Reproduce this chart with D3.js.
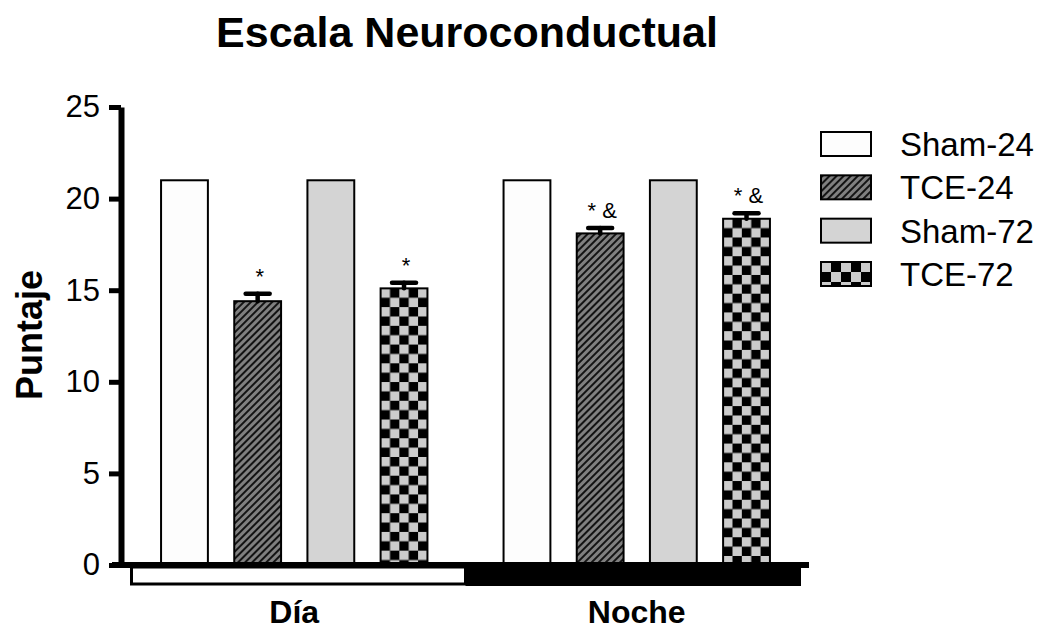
<!DOCTYPE html>
<html>
<head>
<meta charset="utf-8">
<script src="https://cdn.jsdelivr.net/npm/d3@7"></script>
<style>
  body { margin: 0; background: #fff; }
  text { font-family: "Liberation Sans", Arial, Helvetica, sans-serif; fill: #000; }
</style>
</head>
<body>
<div id="chart"></div>
<script>
// data
var periods = ["Día", "Noche"];
var groups = ["Sham-24", "TCE-24", "Sham-72", "TCE-72"];
var meanDia = [21, 14.4, 21, 15.1];
var meanNoche = [21, 18.1, 21, 18.9];
var semDia = [0, 0.4, 0, 0.3];
var semNoche = [0, 0.3, 0, 0.3];
var marksDia = ["", "*", "", "*"];
var marksNoche = ["", "* &", "", "* &"];
var yTicks = [0, 5, 10, 15, 20, 25];

var W = 1041, H = 629;

var rows = [];
periods.forEach(function(p, i) {
  var m = i === 0 ? meanDia : meanNoche;
  var s = i === 0 ? semDia : semNoche;
  var k = i === 0 ? marksDia : marksNoche;
  groups.forEach(function(g, j) {
    rows.push({ period: p, group: g, value: m[j], sem: s[j], mark: k[j], idx: rows.length });
  });
});

var svg = d3.select("#chart").append("svg")
  .attr("width", W)
  .attr("height", H);

var defs = svg.append("defs");

// hatch pattern for TCE-24
var hatch = defs.append("pattern")
  .attr("id", "hatch")
  .attr("patternUnits", "userSpaceOnUse")
  .attr("width", 5)
  .attr("height", 5)
  .attr("patternTransform", "rotate(45)");
hatch.append("rect").attr("width", 5).attr("height", 5).attr("fill", "#808080");
hatch.append("line")
  .attr("x1", 1).attr("y1", 0).attr("x2", 1).attr("y2", 5)
  .attr("stroke", "#000").attr("stroke-width", 1.7);

function checker(id, x0, y0, c) {
  var p = defs.append("pattern")
    .attr("id", id)
    .attr("patternUnits", "userSpaceOnUse")
    .attr("x", x0).attr("y", y0)
    .attr("width", c * 2).attr("height", c * 2);
  p.append("rect").attr("width", c * 2).attr("height", c * 2).attr("fill", "#000");
  p.append("rect").attr("width", c).attr("height", c).attr("fill", "#cccccc");
  p.append("rect").attr("x", c).attr("y", c).attr("width", c).attr("height", c).attr("fill", "#cccccc");
}

var fills = {
  "Sham-24": "#fdfdfd",
  "TCE-24": "url(#hatch)",
  "Sham-72": "#d4d4d4"
};

// scales
var y = d3.scaleLinear().domain([0, 25]).range([565, 107]);

var x0 = d3.scaleBand()
  .domain(periods)
  .range([123, 808]);

var x1 = d3.scaleBand()
  .domain(groups)
  .range([0, x0.bandwidth()])
  .paddingInner(0.36)
  .paddingOuter(0.52);

function barX(d) { return x0(d.period) + x1(d.group); }

// title
svg.append("text")
  .attr("x", 467)
  .attr("y", 47)
  .attr("text-anchor", "middle")
  .attr("font-size", "43px")
  .attr("font-weight", "bold")
  .text("Escala Neuroconductual");

// y label
svg.append("text")
  .attr("transform", "translate(42, 335) rotate(-90)")
  .attr("text-anchor", "middle")
  .attr("font-size", "36px")
  .attr("font-weight", "bold")
  .text("Puntaje");

// bars
var bars = svg.append("g");

bars.selectAll("rect")
  .data(rows)
  .enter()
  .append("rect")
  .attr("x", barX)
  .attr("y", d => y(d.value))
  .attr("width", x1.bandwidth())
  .attr("height", d => y(0) - y(d.value))
  .attr("fill", function(d) {
    if (d.group === "TCE-72") {
      var id = "chk" + d.idx;
      checker(id, barX(d), y(d.value), x1.bandwidth() / 5);
      return "url(#" + id + ")";
    }
    return fills[d.group];
  })
  .attr("stroke", "#000")
  .attr("stroke-width", 2);

// error bars (upper half only)
var errRows = rows.filter(d => d.sem > 0);
var err = svg.append("g")
  .attr("stroke", "#000")
  .attr("stroke-width", 4.5)
  .attr("stroke-linecap", "round");

err.selectAll(".stem")
  .data(errRows)
  .enter()
  .append("line")
  .attr("x1", d => barX(d) + x1.bandwidth() / 2)
  .attr("x2", d => barX(d) + x1.bandwidth() / 2)
  .attr("y1", d => y(d.value))
  .attr("y2", d => y(d.value + d.sem));

err.selectAll(".cap")
  .data(errRows)
  .enter()
  .append("line")
  .attr("x1", d => barX(d) + x1.bandwidth() / 2 - 12)
  .attr("x2", d => barX(d) + x1.bandwidth() / 2 + 12)
  .attr("y1", d => y(d.value + d.sem))
  .attr("y2", d => y(d.value + d.sem));

// significance marks
svg.append("g").selectAll("text")
  .data(rows.filter(d => d.mark))
  .enter()
  .append("text")
  .attr("x", d => barX(d) + x1.bandwidth() / 2 + 2)
  .attr("y", d => y(d.value + d.sem) - 10)
  .attr("text-anchor", "middle")
  .attr("font-size", "22px")
  .text(d => d.mark);

// day / night strip
var strip = svg.append("g");
strip.append("rect")
  .attr("x", x0("Día") + 8.5)
  .attr("y", 567)
  .attr("width", x0.bandwidth() - 8.5)
  .attr("height", 17)
  .attr("fill", "#fff")
  .attr("stroke", "#000")
  .attr("stroke-width", 3);
strip.append("rect")
  .attr("x", x0("Noche"))
  .attr("y", 566)
  .attr("width", x0.bandwidth() - 7)
  .attr("height", 20)
  .attr("fill", "#000");

// x axis line
svg.append("line")
  .attr("x1", 112)
  .attr("x2", x0.range()[1] + 1)
  .attr("y1", y(0))
  .attr("y2", y(0))
  .attr("stroke", "#000")
  .attr("stroke-width", 6);

// x axis labels
var xAxis = svg.append("g")
  .attr("transform", `translate(0, ${y(0)})`)
  .call(d3.axisBottom(x0).tickSize(0).tickPadding(35));
xAxis.select(".domain").remove();
xAxis.selectAll("text")
  .attr("font-family", null)
  .attr("font-size", "32px")
  .attr("font-weight", "bold");

// y axis
var yAxis = svg.append("g")
  .attr("transform", "translate(121, 0)")
  .call(d3.axisLeft(y).tickValues(yTicks).tickSize(12).tickSizeOuter(0).tickPadding(9));
yAxis.select(".domain").attr("stroke-width", 6);
yAxis.selectAll(".tick line").attr("stroke-width", 5);
yAxis.selectAll("text")
  .attr("font-family", null)
  .attr("font-size", "31px");

// legend
var legend = svg.append("g");
var ly = d3.scalePoint().domain(groups).range([144, 274]);

groups.forEach(function(g) {
  var top = ly(g) - 12;
  var f = fills[g];
  if (g === "TCE-72") {
    checker("chkLegend", 821, top, 10);
    f = "url(#chkLegend)";
  }
  legend.append("rect")
    .attr("x", 821)
    .attr("y", top)
    .attr("width", 50)
    .attr("height", 24)
    .attr("fill", f)
    .attr("stroke", "#000")
    .attr("stroke-width", 2);
  legend.append("text")
    .attr("x", 900)
    .attr("y", ly(g) + 12)
    .attr("font-size", "33px")
    .text(g);
});
</script>
</body>
</html>
